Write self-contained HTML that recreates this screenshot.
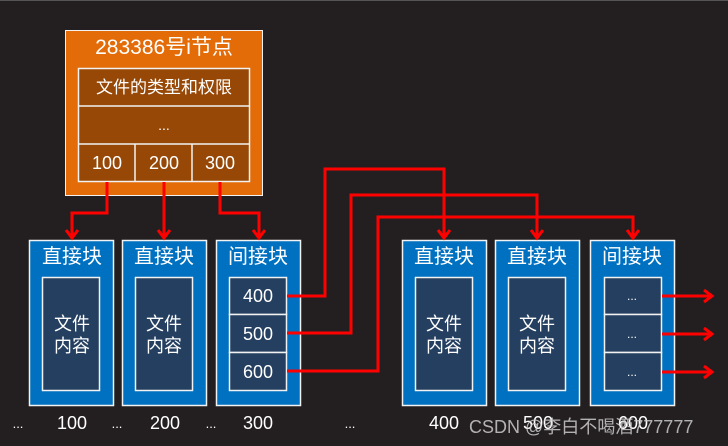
<!DOCTYPE html>
<html><head><meta charset="utf-8"><style>
body{margin:0;width:728px;height:446px;background:#231f20;overflow:hidden;font-family:"Liberation Sans","Noto Sans CJK SC",sans-serif}
</style></head><body>
<svg width="728" height="446" xmlns="http://www.w3.org/2000/svg" style="position:absolute;left:0;top:0">
<defs><marker id="a" markerWidth="16" markerHeight="16" refX="9" refY="7" orient="auto" markerUnits="userSpaceOnUse"><path d="M1,1 L9,7 L1,13" fill="none" stroke="#f00" stroke-width="3"/></marker></defs>
<rect x="0" y="0" width="728" height="446" fill="#231f20"/>
<line x1="0" y1="0.5" x2="728" y2="0.5" stroke="#555"/>
<g font-family="Liberation Sans, Noto Sans CJK SC, sans-serif" fill="#fff" text-anchor="middle">
<rect x="65.5" y="30.5" width="197" height="165" fill="#e36c09" stroke="#f2f2f2"/>
<text x="164" y="54" font-size="21">283386号i节点</text>
<rect x="78.5" y="68.5" width="171" height="113" fill="#974806" stroke="#f2f2f2" stroke-width="1.5"/>
<line x1="78" y1="106" x2="250" y2="106" stroke="#f2f2f2" stroke-width="1.5"/>
<line x1="78" y1="144" x2="250" y2="144" stroke="#f2f2f2" stroke-width="1.5"/>
<line x1="135" y1="144" x2="135" y2="182" stroke="#f2f2f2" stroke-width="1.5"/>
<line x1="192" y1="144" x2="192" y2="182" stroke="#f2f2f2" stroke-width="1.5"/>
<text x="164" y="93" font-size="17">文件的类型和权限</text>
<text x="164" y="130" font-size="14">...</text>
<text x="107" y="169" font-size="18">100</text>
<text x="164" y="169" font-size="18">200</text>
<text x="220" y="169" font-size="18">300</text>

<g stroke="#f2f2f2" stroke-width="1.5">
<rect x="29.5" y="240.5" width="84" height="165" fill="#0070c0"/>
<rect x="122.5" y="240.5" width="84" height="165" fill="#0070c0"/>
<rect x="216.5" y="240.5" width="84" height="165" fill="#0070c0"/>
<rect x="402.5" y="240.5" width="84" height="165" fill="#0070c0"/>
<rect x="495.5" y="240.5" width="84" height="165" fill="#0070c0"/>
<rect x="590.5" y="240.5" width="84" height="165" fill="#0070c0"/>
<rect x="42.5" y="277.5" width="57" height="113" fill="#243f60"/>
<rect x="135.5" y="277.5" width="57" height="113" fill="#243f60"/>
<rect x="415.5" y="277.5" width="57" height="113" fill="#243f60"/>
<rect x="508.5" y="277.5" width="57" height="113" fill="#243f60"/>
<rect x="229.5" y="277.5" width="57" height="37" fill="#243f60"/>
<rect x="229.5" y="314.5" width="57" height="38" fill="#243f60"/>
<rect x="229.5" y="352.5" width="57" height="38" fill="#243f60"/>
<rect x="604.5" y="277.5" width="57" height="37" fill="#243f60"/>
<rect x="604.5" y="314.5" width="57" height="38" fill="#243f60"/>
<rect x="604.5" y="352.5" width="57" height="38" fill="#243f60"/>
</g>
<g font-size="20">
<text x="72" y="263">直接块</text><text x="164" y="263">直接块</text><text x="258" y="263">间接块</text>
<text x="444" y="263">直接块</text><text x="537" y="263">直接块</text><text x="632" y="263">间接块</text>
</g>
<g font-size="18">
<text x="72" y="330">文件</text><text x="72" y="352">内容</text>
<text x="164" y="330">文件</text><text x="164" y="352">内容</text>
<text x="444" y="330">文件</text><text x="444" y="352">内容</text>
<text x="537" y="330">文件</text><text x="537" y="352">内容</text>
<text x="258" y="302">400</text><text x="258" y="340">500</text><text x="258" y="378">600</text>
</g>
<g font-size="12"><text x="632" y="300">...</text><text x="632" y="338">...</text><text x="632" y="376">...</text></g>
<g font-size="18">
<text x="18" y="428" font-size="13">...</text><text x="72" y="429">100</text>
<text x="117" y="428" font-size="13">...</text><text x="165" y="429">200</text>
<text x="211" y="428" font-size="13">...</text><text x="258" y="429">300</text>
<text x="350" y="428" font-size="13">...</text><text x="444" y="429">400</text>
<text x="538" y="429">500</text><text x="633" y="429">600</text>
</g>
<text x="469" y="433" font-size="18" text-anchor="start" fill="#ccc" fill-opacity="0.85">CSDN @李白不喝酒777777</text>
</g>
<g fill="none" stroke="#f00" stroke-width="3">
<path d="M107,182 V213 H72 V238" marker-end="url(#a)"/>
<path d="M164,182 V238" marker-end="url(#a)"/>
<path d="M220,182 V213 H259 V238" marker-end="url(#a)"/>
<path d="M287,296 H325 V169 H444 V238" marker-end="url(#a)"/>
<path d="M287,333 H351 V195 H537 V238" marker-end="url(#a)"/>
<path d="M287,371 H378 V217 H633 V238" marker-end="url(#a)"/>
<path d="M662,296 H712" marker-end="url(#a)"/>
<path d="M662,334 H712" marker-end="url(#a)"/>
<path d="M662,372 H712" marker-end="url(#a)"/>
</g>
</svg>
</body></html>
